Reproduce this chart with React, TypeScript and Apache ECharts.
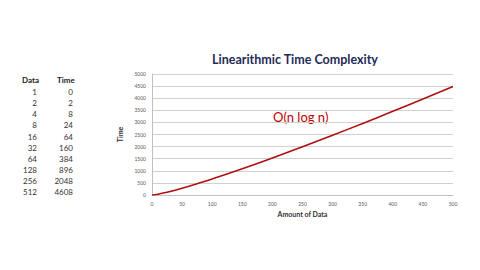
import React, { useEffect, useRef } from "react";
import * as echarts from "echarts";

const tableData = ["1", "2", "4", "8", "16", "32", "64", "128", "256", "512"];
const tableTime = ["0", "2", "8", "24", "64", "160", "384", "896", "2048", "4608"];

const amounts = [0, 10, 25, 50, 75, 100, 150, 200, 250, 300, 350, 400, 450, 500];
const times = [0, 33, 116, 282, 467, 664, 1084, 1529, 1991, 2469, 2958, 3458, 3966, 4483];

export default function App() {
  const ref = useRef<HTMLDivElement>(null);
  useEffect(() => {
    const chart = echarts.init(ref.current!, null, { renderer: "svg" });
    const font = "Lato, 'Open Sans', sans-serif";
    const rowY0 = 92;
    const rowStep = 11.15;
    const tableGraphics: any[] = [
      {
        type: "text",
        left: 22,
        top: 76,
        style: { text: "Data", font: `bold 8px ${font}`, fill: "#222" },
      },
      {
        type: "text",
        left: 57,
        top: 76,
        style: { text: "Time", font: `bold 8px ${font}`, fill: "#222" },
      },
    ];
    tableData.forEach((d, i) => {
      tableGraphics.push({
        type: "text",
        x: 37,
        y: rowY0 + i * rowStep,
        style: {
          text: d,
          font: `8px ${font}`,
          fill: "#333",
          align: "right",
          verticalAlign: "middle",
        },
      });
      tableGraphics.push({
        type: "text",
        x: 73,
        y: rowY0 + i * rowStep,
        style: {
          text: tableTime[i],
          font: `8px ${font}`,
          fill: "#333",
          align: "right",
          verticalAlign: "middle",
        },
      });
    });
    chart.setOption({
      animation: false,
      backgroundColor: "#ffffff",
      title: {
        text: "Linearithmic Time Complexity",
        left: 290,
        top: 48,
        textAlign: "center",
        textStyle: {
          fontFamily: font,
          fontWeight: "bold",
          fontSize: 12.5,
          color: "#1F2B57",
        },
      },
      grid: { left: 152, right: 27, top: 74, bottom: 75 },
      xAxis: {
        type: "value",
        min: 0,
        max: 500,
        interval: 50,
        name: "Amount of Data",
        nameLocation: "middle",
        nameGap: 15,
        nameTextStyle: { fontFamily: font, fontSize: 7, fontWeight: "bold", color: "#333" },
        axisLine: { show: true, lineStyle: { color: "#BFBFBF", width: 1 } },
        axisTick: { show: false },
        splitLine: { show: false },
        axisLabel: { fontFamily: font, fontSize: 5, color: "#595959", margin: 6, formatter: (v: number) => String(v) },
      },
      yAxis: {
        type: "value",
        min: 0,
        max: 5000,
        interval: 500,
        name: "Time",
        nameLocation: "middle",
        nameGap: 20,
        nameRotate: 90,
        nameTextStyle: { fontFamily: font, fontSize: 7, fontWeight: "bold", color: "#333" },
        axisLine: { show: true, lineStyle: { color: "#BFBFBF", width: 1 } },
        axisTick: { show: false },
        splitLine: { show: true, lineStyle: { color: "#D0D0D0", width: 1 } },
        axisLabel: { fontFamily: font, fontSize: 5, color: "#595959", margin: 6, formatter: (v: number) => String(v) },
      },
      series: [
        {
          type: "line",
          data: amounts.map((a, i) => [a, times[i]]),
          smooth: true,
          showSymbol: false,
          lineStyle: { color: "#B01010", width: 1.6 },
        },
      ],
      graphic: [
        ...tableGraphics,
        {
          type: "text",
          x: 273,
          y: 110,
          style: { text: "O(n log n)", font: `13px ${font}`, fill: "#C00000" },
        },
      ],
    });
    return () => chart.dispose();
  }, []);
  return <div ref={ref} style={{ width: 480, height: 270, position: "absolute", left: 0, top: 0 }} />;
}
